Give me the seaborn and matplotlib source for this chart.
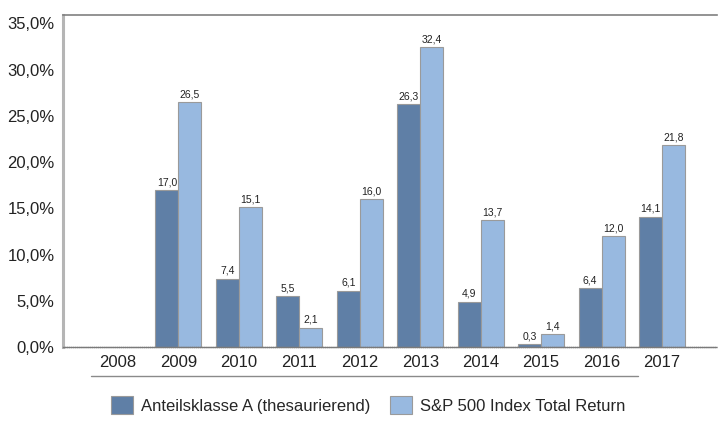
import numpy as np
import pandas as pd
import matplotlib
matplotlib.use('Agg')
import matplotlib.pyplot as plt
import matplotlib.transforms as mtransforms
import seaborn as sns

years = ['2008', '2009', '2010', '2011', '2012', '2013', '2014', '2015', '2016', '2017']
fund = [np.nan, 17.0, 7.4, 5.5, 6.1, 26.3, 4.9, 0.3, 6.4, 14.1]
index = [np.nan, 26.5, 15.1, 2.1, 16.0, 32.4, 13.7, 1.4, 12.0, 21.8]
series_names = ['Anteilsklasse A (thesaurierend)', 'S&P 500 Index Total Return']
colors = ['#5f7fa6', '#98b9e0']

df = pd.DataFrame({
    'Jahr': years * 2,
    'Wert': fund + index,
    'Serie': [series_names[0]] * len(years) + [series_names[1]] * len(years),
})

sns.set_style('white')
plt.rcParams['font.family'] = ['Liberation Sans', 'DejaVu Sans']

fig = plt.figure(figsize=(7.18, 4.30), dpi=100)
ax = fig.add_axes([0.0877, 0.193, 0.9109, 0.772])

sns.barplot(data=df, x='Jahr', y='Wert', hue='Serie', order=years,
            hue_order=series_names, palette=colors, saturation=1, width=0.76,
            edgecolor='#9a9a9a', linewidth=0.8, ax=ax, legend=True)

for cont in ax.containers:
    labels = []
    for bar in cont:
        h = bar.get_height()
        labels.append('' if np.isnan(h) else f'{h:.1f}'.replace('.', ','))
    ax.bar_label(cont, labels=labels, padding=2, fontsize=7.5, color='#222222')

ax.set_xlim(-0.91, 9.91)
ax.set_ylim(0, 35.9)
ax.set_yticks(np.arange(0, 36, 5))
ax.set_yticklabels([f'{v:.1f}%'.replace('.', ',') for v in np.arange(0, 36, 5)])
ax.set_xlabel('')
ax.set_ylabel('')
ax.tick_params(axis='both', length=0, labelsize=12, colors='#222222')
ax.tick_params(axis='y', pad=6)
ax.tick_params(axis='x', pad=6)

ax.spines['right'].set_visible(False)
ax.spines['top'].set_color('#808080')
ax.spines['top'].set_linewidth(1.2)
ax.spines['left'].set_color('#b5b5b5')
ax.spines['left'].set_linewidth(2.2)
ax.spines['bottom'].set_color('#7a7a7a')
ax.spines['bottom'].set_linewidth(1.0)
ax.spines['bottom'].set_linestyle((0, (1, 0.5)))

# line under the x labels 2008-2016
trans = mtransforms.blended_transform_factory(ax.transData, ax.transAxes)
ax.plot([-0.45, 8.6], [-0.088, -0.088], transform=trans, color='#8a8a8a',
        linewidth=1.0, clip_on=False)

handles, lbls = ax.get_legend_handles_labels()
ax.get_legend().remove()
fig.legend(handles, lbls, loc='center', bbox_to_anchor=(0.513, 0.058), ncol=2,
           frameon=False, fontsize=12, handlelength=1.3, handleheight=1.3,
           handletextpad=0.5, columnspacing=1.2)

fig.savefig('out.png', dpi=100)
